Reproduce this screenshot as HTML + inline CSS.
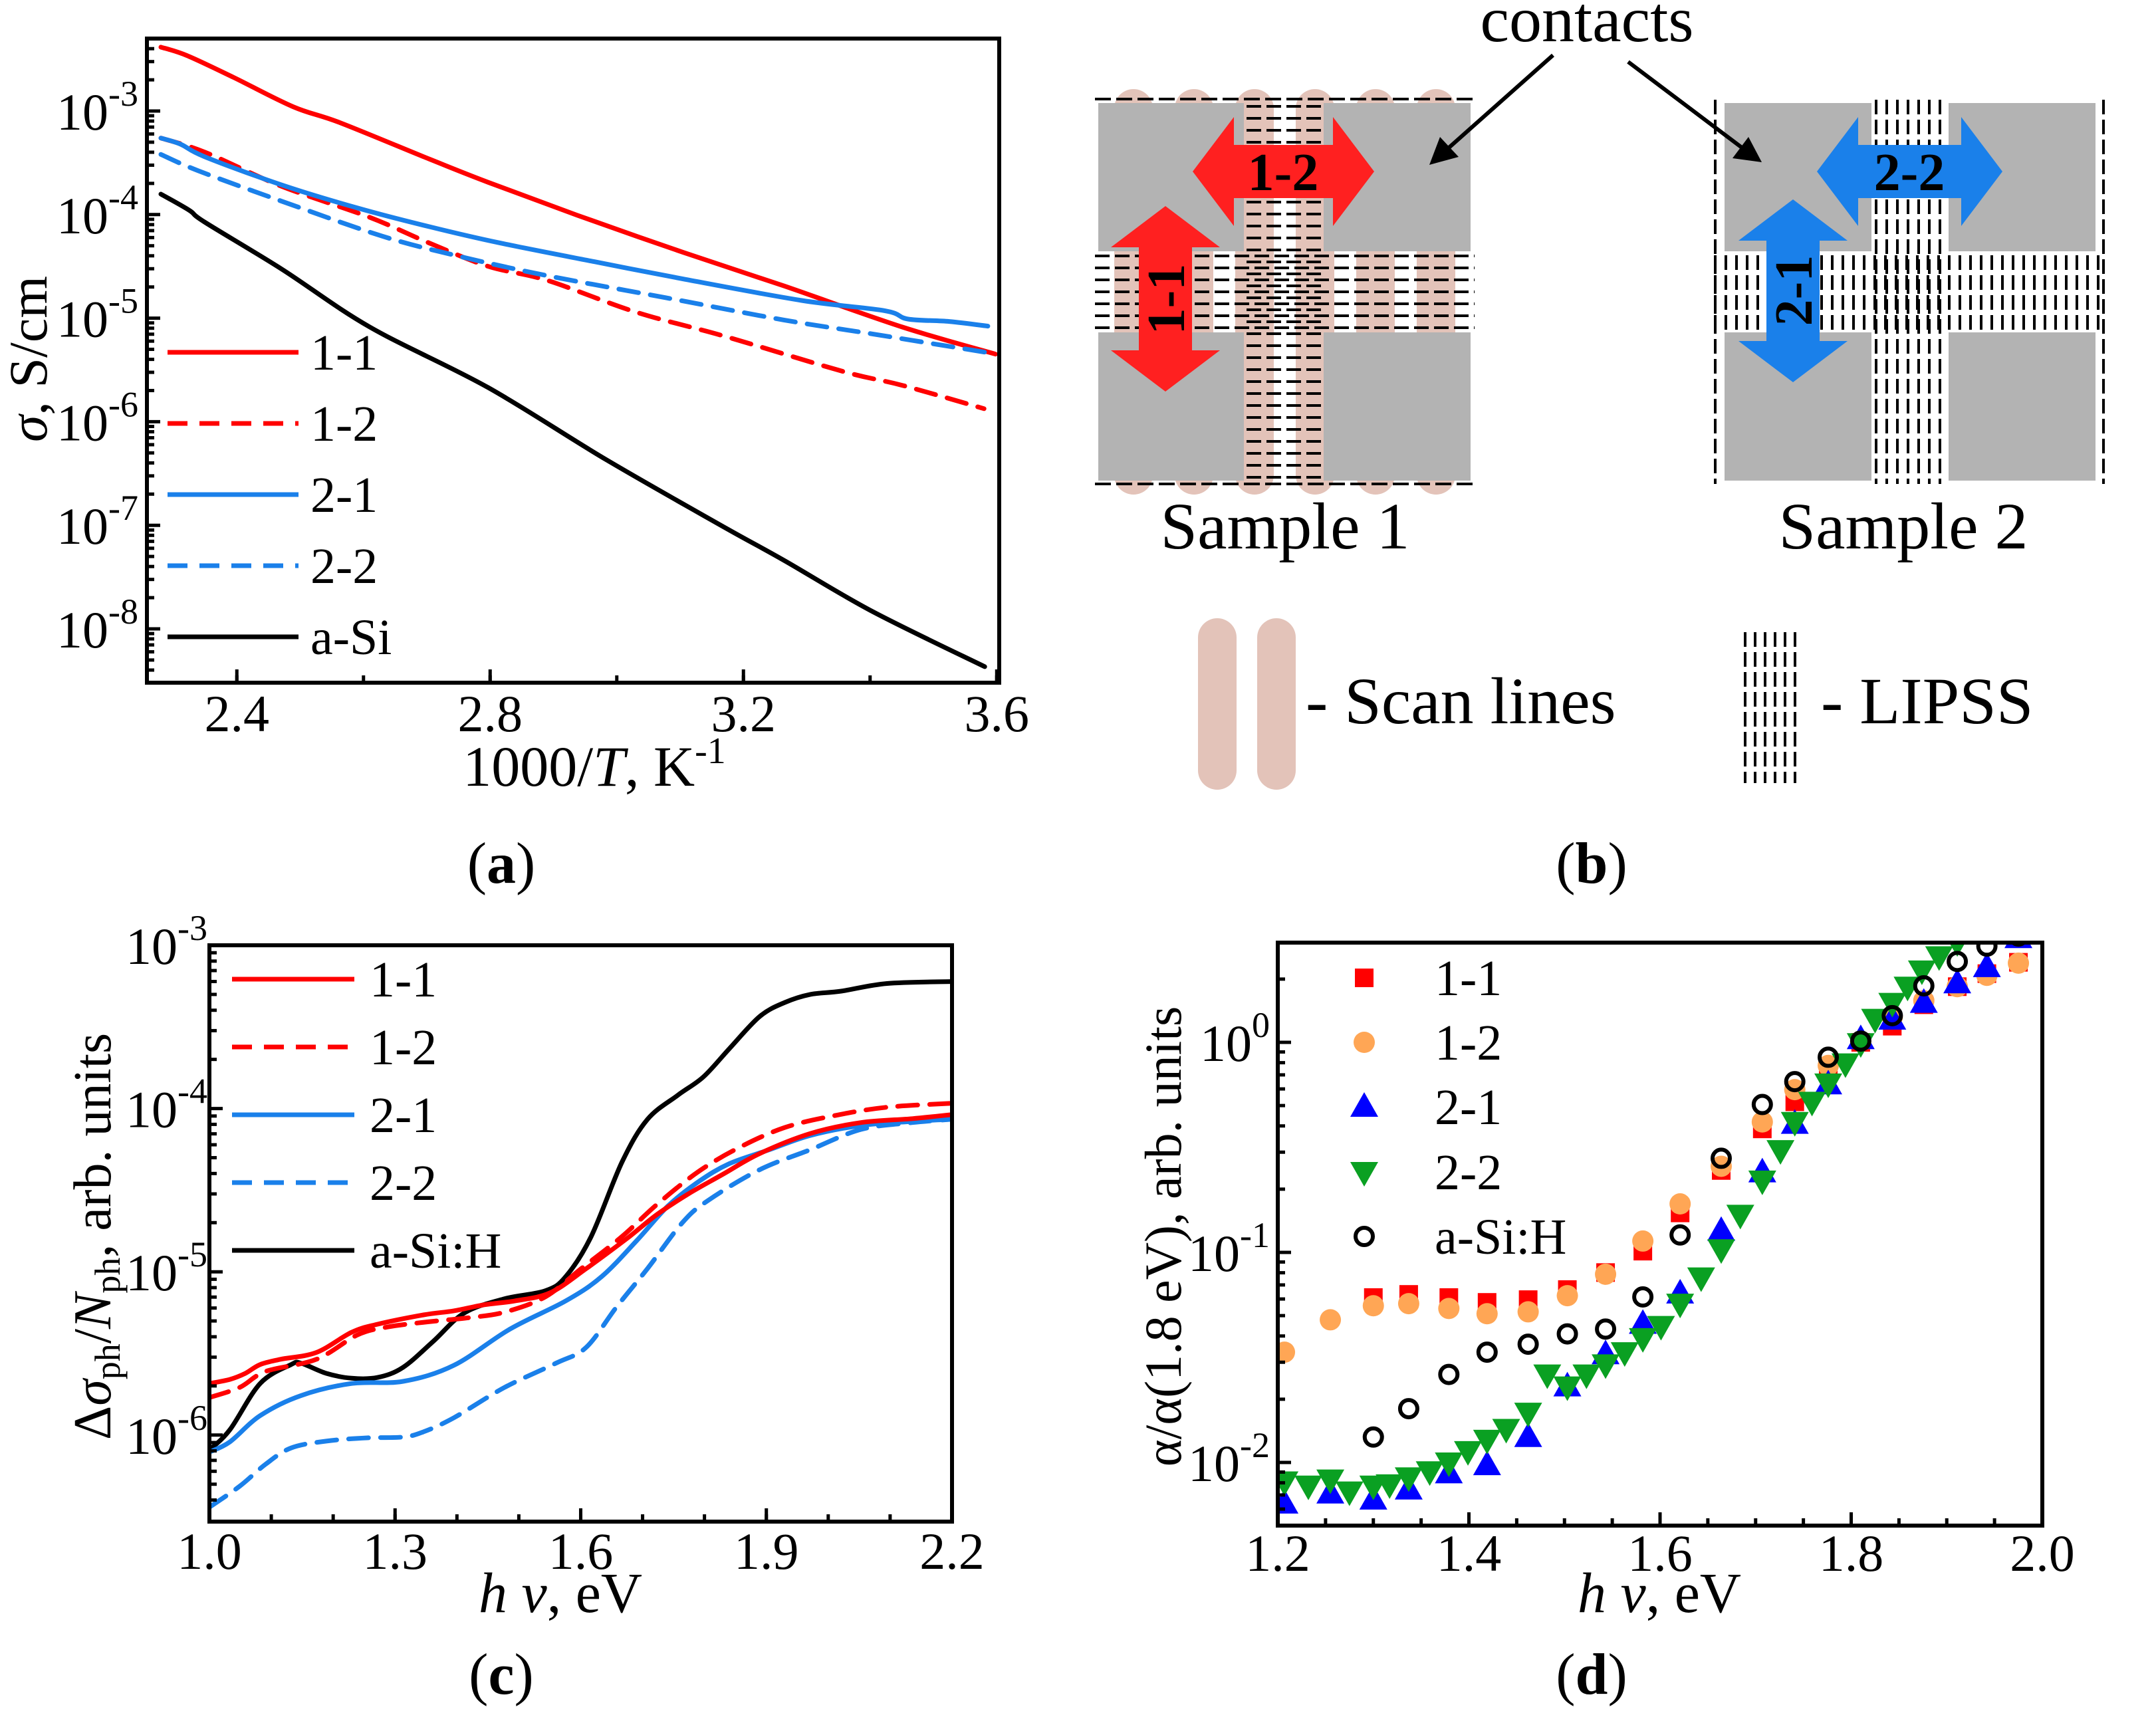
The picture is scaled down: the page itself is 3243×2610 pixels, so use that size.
<!DOCTYPE html>
<html><head><meta charset="utf-8"><style>
html,body{margin:0;padding:0;background:#fff;}
svg{display:block;}
text{font-family:"Liberation Serif",serif;fill:#000;}
</style></head><body>
<svg id="fig" xmlns="http://www.w3.org/2000/svg" width="3243" height="2610" viewBox="0 0 3243 2610">
<defs>
<clipPath id="clipA"><rect x="221" y="58" width="1282" height="969"/></clipPath>
<clipPath id="clipC"><rect x="315" y="1422" width="1117" height="867"/></clipPath>
<clipPath id="clipD"><rect x="1922" y="1418" width="1150" height="877"/></clipPath>
</defs>

<g>
  <g fill="#e3c3b9">
    <rect x="1676" y="134" width="58" height="610" rx="29"/>
    <rect x="1767" y="134" width="58" height="610" rx="29"/>
    <rect x="1858" y="134" width="58" height="610" rx="29"/>
    <rect x="1949" y="134" width="58" height="610" rx="29"/>
    <rect x="2040" y="134" width="58" height="610" rx="29"/>
    <rect x="2131" y="134" width="58" height="610" rx="29"/>
  </g>
  <g id="lipss1" stroke="#000" stroke-width="4" stroke-dasharray="22 8"></g>
  <g fill="#b3b3b3">
    <rect x="1652" y="155" width="219" height="223"/>
    <rect x="1991" y="155" width="221" height="223"/>
    <rect x="1652" y="500" width="219" height="223"/>
    <rect x="1991" y="500" width="221" height="223"/>
  </g>
  <line x1="1647" y1="149" x2="2218" y2="149" stroke="#000" stroke-width="4" stroke-dasharray="24 8"/>
  <line x1="1647" y1="728" x2="2218" y2="728" stroke="#000" stroke-width="4" stroke-dasharray="24 8"/>
  <g id="lipss2" stroke="#000" stroke-width="4" stroke-dasharray="22 8"></g>
  <g fill="#b3b3b3">
    <rect x="2594" y="155" width="221" height="223"/>
    <rect x="2931" y="155" width="221" height="223"/>
    <rect x="2594" y="500" width="221" height="223"/>
    <rect x="2931" y="500" width="221" height="223"/>
  </g>
  <g>
    <polygon fill="#ff2020" points="1794,258 1856,176 1856,218 2005,218 2005,176 2067,258 2005,340 2005,298 1856,298 1856,340"/>
    <text x="1930" y="286" font-size="80" font-weight="bold" text-anchor="middle">1-2</text>
  </g>
  <g>
    <polygon fill="#ff2020" points="1753,310 1835,372 1793,372 1793,527 1835,527 1753,589 1671,527 1713,527 1713,372 1671,372"/>
    <text x="0" y="0" font-size="80" font-weight="bold" text-anchor="middle" transform="translate(1781,450) rotate(-90)">1-1</text>
  </g>
  <g>
    <polygon fill="#1a80ea" points="2733,258 2795,176 2795,218 2950,218 2950,176 3012,258 2950,340 2950,298 2795,298 2795,340"/>
    <text x="2872" y="286" font-size="80" font-weight="bold" text-anchor="middle">2-2</text>
  </g>
  <g>
    <polygon fill="#1a80ea" points="2697,300 2779,362 2737,362 2737,513 2779,513 2697,575 2615,513 2657,513 2657,362 2615,362"/>
    <text x="0" y="0" font-size="80" font-weight="bold" text-anchor="middle" transform="translate(2725,437) rotate(-90)">2-1</text>
  </g>
  <text x="2387" y="62" font-size="98" text-anchor="middle">contacts</text>
  <g stroke="#000" stroke-width="6" fill="#000">
    <line x1="2336" y1="83" x2="2175" y2="226"/>
    <polygon points="2150,248 2166,206 2194,236" stroke="none"/>
    <line x1="2449" y1="93" x2="2624" y2="225"/>
    <polygon points="2650,244 2606,238 2630,206" stroke="none"/>
  </g>
  <text x="1933" y="825" font-size="100" text-anchor="middle">Sample 1</text>
  <text x="2863" y="825" font-size="100" text-anchor="middle">Sample 2</text>
  <g>
    <rect x="1802" y="930" width="58" height="258" rx="29" fill="#e3c3b9"/>
    <rect x="1891" y="930" width="58" height="258" rx="29" fill="#e3c3b9"/>
    <text x="1964" y="1088" font-size="100">- Scan lines</text>
  </g>
  <g>
    <g id="lipssIcon" stroke="#000" stroke-width="4" stroke-dasharray="22 8"></g>
    <text x="2739" y="1088" font-size="100">- LIPSS</text>
  </g>
  <text x="2394" y="1328" font-size="88" text-anchor="middle">(<tspan font-weight="bold">b</tspan>)</text>
</g>

<g id="plots"></g>
</svg>
<script>
// ===== Panel (a) data =====
const aX11 = [2.280,2.321,2.395,2.489,2.563,2.704,2.797,2.937,3.105,3.264,3.451,3.598];
const aL11 = [-2.383,-2.464,-2.676,-2.959,-3.113,-3.464,-3.689,-4.005,-4.365,-4.689,-5.086,-5.347];
const aX12 = [2.280,2.349,2.470,2.610,2.704,2.797,2.890,3.030,3.171,3.357,3.451,3.580];
const aL12 = [-3.261,-3.396,-3.725,-4.027,-4.275,-4.500,-4.635,-4.941,-5.176,-5.514,-5.649,-5.874];
const aX21 = [2.280,2.311,2.349,2.470,2.591,2.704,2.816,2.965,3.105,3.292,3.423,3.460,3.525,3.586];
const aL21 = [-3.261,-3.320,-3.441,-3.712,-3.937,-4.117,-4.275,-4.455,-4.622,-4.829,-4.928,-5.009,-5.032,-5.077];
const aX22 = [2.280,2.339,2.470,2.629,2.750,2.890,3.077,3.264,3.404,3.586];
const aL22 = [-3.419,-3.577,-3.869,-4.207,-4.401,-4.590,-4.802,-5.018,-5.153,-5.333];
const aXSi = [2.280,2.325,2.349,2.470,2.610,2.797,2.984,3.171,3.264,3.404,3.581];
const aLSi = [-3.802,-3.959,-4.072,-4.523,-5.086,-5.671,-6.369,-7.023,-7.338,-7.833,-8.365];
const aXTicks = [2.4,2.8,3.2,3.6];
const aXTickLabels = ["2.4","2.8","3.2","3.6"];
const aYDecades = [-3,-4,-5,-6,-7,-8];
const aLegend = ["1-1","1-2","2-1","2-2","a-Si"];

// ===== Panel (c) data =====
const cX11 = [1.000,1.033,1.058,1.082,1.115,1.173,1.230,1.272,1.346,1.395,1.444,1.494,1.551,1.609,1.675,1.724,1.774,1.831,1.889,1.971,2.053,2.136,2.200];
const cL11 = [-5.684,-5.659,-5.622,-5.568,-5.536,-5.494,-5.370,-5.321,-5.264,-5.239,-5.202,-5.178,-5.128,-4.980,-4.795,-4.647,-4.523,-4.400,-4.276,-4.153,-4.086,-4.062,-4.037];
const cX12 = [1.000,1.049,1.091,1.173,1.239,1.288,1.354,1.420,1.477,1.543,1.601,1.667,1.724,1.790,1.856,1.930,2.012,2.095,2.200];
const cL12 = [-5.770,-5.708,-5.610,-5.536,-5.387,-5.338,-5.306,-5.281,-5.247,-5.153,-4.980,-4.783,-4.585,-4.387,-4.239,-4.116,-4.042,-3.992,-3.968];
const cX21 = [1.000,1.033,1.082,1.148,1.230,1.313,1.395,1.486,1.576,1.634,1.691,1.741,1.790,1.840,1.905,1.971,2.053,2.136,2.200];
const cL21 = [-6.104,-6.042,-5.881,-5.758,-5.684,-5.671,-5.573,-5.350,-5.178,-5.029,-4.807,-4.597,-4.449,-4.338,-4.252,-4.165,-4.104,-4.079,-4.066];
const cX22 = [1.000,1.049,1.091,1.132,1.189,1.255,1.313,1.346,1.395,1.477,1.560,1.609,1.658,1.708,1.765,1.807,1.889,1.971,2.053,2.136,2.200];
const cL22 = [-6.442,-6.313,-6.178,-6.079,-6.037,-6.017,-6.012,-5.980,-5.894,-5.708,-5.560,-5.462,-5.215,-4.980,-4.696,-4.560,-4.375,-4.252,-4.128,-4.086,-4.066];
const cXSi = [1.000,1.033,1.082,1.132,1.148,1.189,1.230,1.272,1.313,1.362,1.412,1.477,1.543,1.576,1.617,1.667,1.708,1.757,1.798,1.840,1.889,1.930,1.971,2.021,2.095,2.200];
const cLSi = [-6.091,-5.968,-5.684,-5.568,-5.560,-5.622,-5.652,-5.647,-5.585,-5.425,-5.252,-5.165,-5.116,-5.029,-4.783,-4.326,-4.066,-3.918,-3.807,-3.634,-3.437,-3.350,-3.301,-3.281,-3.234,-3.222];
const cXTicks = [1.0,1.3,1.6,1.9,2.2];
const cXTickLabels = ["1.0","1.3","1.6","1.9","2.2"];
const cYDecades = [-3,-4,-5,-6];
const cLegend = ["1-1","1-2","2-1","2-2","a-Si:H"];

// ===== Panel (d) data =====
const dX11 = [1.300,1.337,1.379,1.419,1.462,1.503,1.543,1.582,1.621,1.664,1.707,1.741,1.776,1.810,1.843,1.876,1.911,1.942,1.975];
const dL11 = [-1.215,-1.200,-1.215,-1.238,-1.225,-1.177,-1.096,-0.994,-0.812,-0.610,-0.412,-0.283,-0.129,0.000,0.077,0.179,0.265,0.327,0.381];
const dX12 = [1.207,1.255,1.300,1.337,1.379,1.419,1.462,1.503,1.543,1.582,1.621,1.664,1.707,1.741,1.776,1.810,1.843,1.876,1.911,1.942,1.975];
const dL12 = [-1.475,-1.321,-1.254,-1.244,-1.267,-1.292,-1.283,-1.206,-1.104,-0.946,-0.769,-0.590,-0.379,-0.225,-0.110,0.006,0.121,0.198,0.265,0.319,0.377];
const dX21 = [1.207,1.255,1.300,1.337,1.379,1.419,1.462,1.503,1.543,1.582,1.621,1.664,1.707,1.741,1.776,1.810,1.843,1.876,1.911,1.942,1.975];
const dL21 = [-2.196,-2.148,-2.177,-2.129,-2.052,-2.013,-1.879,-1.638,-1.485,-1.340,-1.196,-0.898,-0.619,-0.388,-0.200,0.015,0.108,0.188,0.281,0.358,0.496];
const dX22 = [1.207,1.232,1.255,1.275,1.300,1.317,1.337,1.359,1.379,1.399,1.419,1.439,1.462,1.482,1.503,1.523,1.543,1.563,1.582,1.601,1.621,1.643,1.664,1.684,1.707,1.726,1.741,1.759,1.776,1.794,1.810,1.825,1.843,1.859,1.874,1.892,1.911];
const dL22 = [-2.090,-2.110,-2.081,-2.138,-2.110,-2.104,-2.071,-2.042,-2.000,-1.946,-1.892,-1.840,-1.763,-1.581,-1.638,-1.581,-1.533,-1.475,-1.408,-1.350,-1.244,-1.119,-0.985,-0.821,-0.658,-0.513,-0.379,-0.283,-0.196,-0.100,-0.004,0.112,0.188,0.265,0.342,0.410,0.477];
const dXSi = [1.300,1.337,1.379,1.419,1.462,1.503,1.543,1.582,1.621,1.664,1.707,1.741,1.776,1.810,1.843,1.876,1.911,1.942,1.975];
const dLSi = [-1.879,-1.744,-1.581,-1.475,-1.437,-1.388,-1.365,-1.212,-0.917,-0.552,-0.296,-0.187,-0.071,0.006,0.127,0.269,0.385,0.458,0.506];
const dXTicks = [1.2,1.4,1.6,1.8,2.0];
const dXTickLabels = ["1.2","1.4","1.6","1.8","2.0"];
const dYDecades = [0,-1,-2];
const dLegend = ["1-1","1-2","2-1","2-2","a-Si:H"];

const NS = "http://www.w3.org/2000/svg";
const root = document.getElementById("plots");
function el(tag, parent){ const e = document.createElementNS(NS, tag); parent.appendChild(e); return e; }

const ax = v => 221 + (v - 2.258) * 952.5;
const ay = L => 167 + (-3 - L) * 155.8;
const cx = v => 315 + (v - 1.0) * 930.8;
const cy = L => 1422 + (-3 - L) * 245.6;
const dx = v => 1922 + (v - 1.2) * 1437.5;
const dy = L => 1568 - L * 316;

const TICKFS = 78;

function frame(x0,y0,x1,y1,name){
  const r = el("rect", root);
  r.setAttribute("x",x0); r.setAttribute("y",y0); r.setAttribute("width",x1-x0); r.setAttribute("height",y1-y0);
  r.setAttribute("fill","none"); r.setAttribute("stroke","#000"); r.setAttribute("stroke-width","6");
  
  
}
function tick(x1,y1,x2,y2,g){
  const l = el("line", g);
  l.setAttribute("x1",x1); l.setAttribute("y1",y1); l.setAttribute("x2",x2); l.setAttribute("y2",y2);
  l.setAttribute("stroke","#000"); l.setAttribute("stroke-width","5");
}
function textAt(x,y,str,size,anchor,g){
  const t = el("text", g);
  t.setAttribute("x",x); t.setAttribute("y",y); t.setAttribute("font-size",size);
  t.setAttribute("text-anchor",anchor||"start");
  t.textContent = str;
  return t;
}
function powLabel(xRight,yc,exp,g){
  const t = el("text", g);
  t.setAttribute("x",xRight); t.setAttribute("y",yc+28); t.setAttribute("font-size",TICKFS); t.setAttribute("text-anchor","end");
  const a = document.createElementNS(NS,"tspan"); a.textContent = "10"; t.appendChild(a);
  const b = document.createElementNS(NS,"tspan"); b.setAttribute("dy","-36"); b.setAttribute("font-size","54"); b.textContent = String(exp); t.appendChild(b);
  
  
}
function xAxis(fx, yBottom, ticks, labels, minorStep, xmin, xmax, labelY, name){
  const g = el("g", root);
  
  
  for (let i=0;i<ticks.length;i++){
    tick(fx(ticks[i]), yBottom, fx(ticks[i]), yBottom-20, g);
    const t = textAt(fx(ticks[i]), labelY, labels[i], TICKFS, "middle", g);
    
  }
  const n = Math.round((xmax - xmin)/minorStep);
  for (let k=0;k<=n;k++){
    const v = xmin + k*minorStep;
    tick(fx(v), yBottom, fx(v), yBottom-11, g);
  }
}
function yAxisLog(fy, xLeft, decades, yTop, yBot, labelRight, name){
  const g = el("g", root);
  
  
  const lo = Math.min(...decades)-1, hi = Math.max(...decades)+1;
  for (let d=lo; d<=hi; d++){
    for (let m=1;m<10;m++){
      const y = fy(d + Math.log10(m));
      if (y < yTop+2 || y > yBot-2) continue;
      tick(xLeft, y, xLeft + (m===1?20:11), y, g);
    }
  }
  decades.forEach(d => powLabel(labelRight, fy(d), d, g));
}
function smoothPath(pts){
  let d = "M" + pts[0][0].toFixed(1) + "," + pts[0][1].toFixed(1);
  for (let i=0;i<pts.length-1;i++){
    const p0 = pts[Math.max(0,i-1)], p1 = pts[i], p2 = pts[i+1], p3 = pts[Math.min(pts.length-1,i+2)];
    const c1x = p1[0] + (p2[0]-p0[0])/6, c1y = p1[1] + (p2[1]-p0[1])/6;
    const c2x = p2[0] - (p3[0]-p1[0])/6, c2y = p2[1] - (p3[1]-p1[1])/6;
    d += " C" + c1x.toFixed(1)+","+c1y.toFixed(1)+" "+c2x.toFixed(1)+","+c2y.toFixed(1)+" "+p2[0].toFixed(1)+","+p2[1].toFixed(1);
  }
  return d;
}
function series(fx, fy, xs, ys, color, dashed, clip, name){
  const p = el("path", root);
  p.setAttribute("d", smoothPath(xs.map((v,i)=>[fx(v), fy(ys[i])])));
  p.setAttribute("fill","none"); p.setAttribute("stroke",color); p.setAttribute("stroke-width","7");
  p.setAttribute("stroke-linejoin","round"); p.setAttribute("stroke-linecap","round");
  if (dashed) p.setAttribute("stroke-dasharray","30 18");
  p.setAttribute("clip-path","url(#"+clip+")");
  
  
}
function legendLine(x0,x1,y,color,dashed,label,lx,name){
  const g = el("g", root);
  
  
  const l = el("line", g);
  l.setAttribute("x1",x0); l.setAttribute("x2",x1); l.setAttribute("y1",y); l.setAttribute("y2",y);
  l.setAttribute("stroke",color); l.setAttribute("stroke-width","7");
  if (dashed) l.setAttribute("stroke-dasharray","30 18");
  textAt(lx, y+26, label, 76, "start", g);
}
function marker(shape, x, y, g){
  let m;
  if (shape==="sq"){ m = el("rect", g); m.setAttribute("x",x-14); m.setAttribute("y",y-14); m.setAttribute("width",28); m.setAttribute("height",28); m.setAttribute("fill","#ff0000"); }
  else if (shape==="ci"){ m = el("circle", g); m.setAttribute("cx",x); m.setAttribute("cy",y); m.setAttribute("r",16); m.setAttribute("fill","#ffa655"); }
  else if (shape==="up"){ m = el("polygon", g); m.setAttribute("points",(x)+","+(y-22)+" "+(x+21)+","+(y+15)+" "+(x-21)+","+(y+15)); m.setAttribute("fill","#0000ff"); }
  else if (shape==="dn"){ m = el("polygon", g); m.setAttribute("points",(x)+","+(y+22)+" "+(x+21)+","+(y-15)+" "+(x-21)+","+(y-15)); m.setAttribute("fill","#0aa022"); }
  else { m = el("circle", g); m.setAttribute("cx",x); m.setAttribute("cy",y); m.setAttribute("r",13); m.setAttribute("fill","none"); m.setAttribute("stroke","#000"); m.setAttribute("stroke-width","6"); }
  return m;
}
function scatter(shape, xs, ys, name){
  const g = el("g", root);
  g.setAttribute("clip-path","url(#clipD)");
  
  
  xs.forEach((v,i)=>{
    const m = marker(shape, dx(v), dy(ys[i]), g);
    
    
  });
}

series(ax, ay, aX11, aL11, "#ff0000", false, "clipA", "series-a-1-1");
series(ax, ay, aX12, aL12, "#ff0000", true, "clipA", "series-a-1-2");
series(ax, ay, aX21, aL21, "#1a80ea", false, "clipA", "series-a-2-1");
series(ax, ay, aX22, aL22, "#1a80ea", true, "clipA", "series-a-2-2");
series(ax, ay, aXSi, aLSi, "#000000", false, "clipA", "series-a-a-si");
frame(221,58,1503,1027,"plot-frame-a");
xAxis(ax, 1027, aXTicks, aXTickLabels, 0.2, 2.4, 3.6, 1100, "x-axis-a");
yAxisLog(ay, 221, aYDecades, 58, 1027, 208, "y-axis-a");
const aCols = ["#ff0000","#ff0000","#1a80ea","#1a80ea","#000"];
const aDash = [false,true,false,true,false];
const aLegY = [530,637,744,851,958];
aLegend.forEach((s,i)=>legendLine(252,449,aLegY[i],aCols[i],aDash[i],s,467,"legend-entry-a"));

series(cx, cy, cXSi, cLSi, "#000000", false, "clipC", "series-c-a-si-h");
series(cx, cy, cX22, cL22, "#1a80ea", true, "clipC", "series-c-2-2");
series(cx, cy, cX21, cL21, "#1a80ea", false, "clipC", "series-c-2-1");
series(cx, cy, cX12, cL12, "#ff0000", true, "clipC", "series-c-1-2");
series(cx, cy, cX11, cL11, "#ff0000", false, "clipC", "series-c-1-1");
frame(315,1422,1432,2289,"plot-frame-c");
xAxis(cx, 2289, cXTicks, cXTickLabels, 0.1, 1.0, 2.2, 2360, "x-axis-c");
yAxisLog(cy, 315, cYDecades, 1422, 2289, 312, "y-axis-c");
const cLegY = [1473,1575,1677,1779,1881];
cLegend.forEach((s,i)=>legendLine(349,533,cLegY[i],aCols[i],aDash[i],s,556,"legend-entry-c"));

scatter("sq", dX11, dL11, "series-d-1-1");
scatter("ci", dX12, dL12, "series-d-1-2");
scatter("up", dX21, dL21, "series-d-2-1");
scatter("dn", dX22, dL22, "series-d-2-2");
scatter("oc", dXSi, dLSi, "series-d-a-si-h");
frame(1922,1418,3072,2295,"plot-frame-d");
xAxis(dx, 2295, dXTicks, dXTickLabels, 0.05, 1.2, 2.0, 2363, "x-axis-d");
yAxisLog(dy, 1922, dYDecades, 1418, 2295, 1910, "y-axis-d");
const dShapes = ["sq","ci","up","dn","oc"];
const dLegY = [1471,1568,1665,1763,1860];
dLegend.forEach((s,i)=>{
  const g = el("g", root);
  
  
  marker(dShapes[i], 2052, dLegY[i], g);
  textAt(2158, dLegY[i]+26, s, 76, "start", g);
});

(function(){
  const g1 = document.getElementById("lipss1");
  for (let k=0;k<7;k++){ const y=385+k*18; const l=el("line",g1); l.setAttribute("x1",1647); l.setAttribute("x2",2218); l.setAttribute("y1",y); l.setAttribute("y2",y); }
  for (let y=160;y<=720;y+=18){ const l=el("line",g1); l.setAttribute("x1",1875); l.setAttribute("x2",1988); l.setAttribute("y1",y); l.setAttribute("y2",y); }
  const g2 = document.getElementById("lipss2");
  for (let x=2822;x<=2926;x+=16){ const l=el("line",g2); l.setAttribute("x1",x); l.setAttribute("x2",x); l.setAttribute("y1",150); l.setAttribute("y2",728); }
  for (let x=2580;x<=3160;x+=16){ const l=el("line",g2); l.setAttribute("x1",x); l.setAttribute("x2",x); l.setAttribute("y1",384); l.setAttribute("y2",496); }
  [2580,3164].forEach(x=>{ const l=el("line",g2); l.setAttribute("x1",x); l.setAttribute("x2",x); l.setAttribute("y1",150); l.setAttribute("y2",728); });
  const gi = document.getElementById("lipssIcon");
  for (let x=2625;x<=2710;x+=15){ const l=el("line",gi); l.setAttribute("x1",x); l.setAttribute("x2",x); l.setAttribute("y1",951); l.setAttribute("y2",1178); }
})();
</script>

<svg style="position:absolute;left:0;top:0" width="3243" height="2610" viewBox="0 0 3243 2610">
<g font-family="Liberation Serif, serif">
<text font-size="82" text-anchor="middle" transform="translate(70,540) rotate(-90)"><tspan font-style="italic">σ</tspan>, S/cm</text>
<text x="894" y="1182" font-size="86" text-anchor="middle">1000/<tspan font-style="italic">T</tspan>, K<tspan dy="-34" font-size="56">-1</tspan></text>
<text x="754" y="1328" font-size="88" text-anchor="middle">(<tspan font-weight="bold">a</tspan>)</text>
<text font-size="80" text-anchor="middle" transform="translate(166,1860) rotate(-90)">Δ<tspan font-style="italic">σ</tspan><tspan font-size="54" dy="14">ph</tspan><tspan dy="-14">/</tspan><tspan font-style="italic">N</tspan><tspan font-size="54" dy="14">ph</tspan><tspan dy="-14">, arb. units</tspan></text>
<text x="843" y="2425" font-size="86" text-anchor="middle"><tspan font-style="italic">h ν</tspan>, eV</text>
<text x="754" y="2548" font-size="88" text-anchor="middle">(<tspan font-weight="bold">c</tspan>)</text>
<text font-size="78" text-anchor="middle" transform="translate(1776,1860) rotate(-90)">α/α(1.8 eV), arb. units</text>
<text x="2496" y="2425" font-size="86" text-anchor="middle"><tspan font-style="italic">h ν</tspan>, eV</text>
<text x="2394" y="2548" font-size="88" text-anchor="middle">(<tspan font-weight="bold">d</tspan>)</text>
</g>
</svg>
</body></html>
